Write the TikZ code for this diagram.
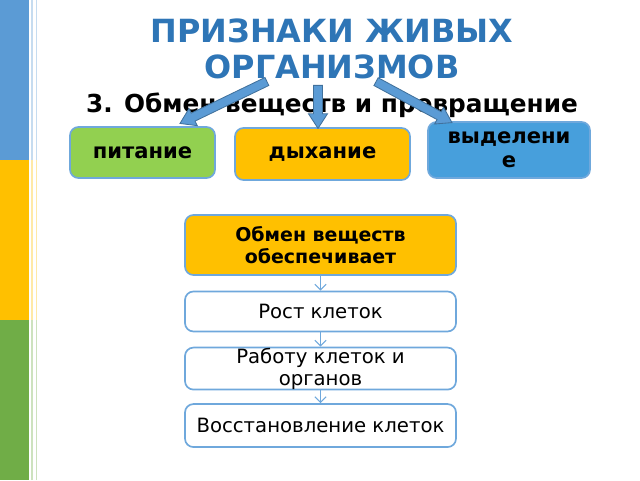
\documentclass[tikz,border=0pt]{standalone}
\usepackage{fontspec}
\setmainfont{DejaVu Sans}
\usetikzlibrary{arrows.meta,positioning,shapes.arrows,calc}
\definecolor{stripblue}{HTML}{5B9BD5}
\definecolor{stripyellow}{HTML}{FFC000}
\definecolor{stripgreen}{HTML}{70AD47}
\definecolor{titleblue}{HTML}{2E75B6}
\definecolor{boxline}{HTML}{6FA8DC}
\definecolor{boxgreen}{HTML}{92D050}
\definecolor{boxyellow}{HTML}{FFC000}
\definecolor{boxblue}{HTML}{479FDC}
\definecolor{arrowline}{HTML}{41719C}
\tikzset{
    %Define standard arrow tip
    >={Straight Barb[length=4pt,width=8pt]},
    %Define style for boxes
    topbox/.style={
           rectangle,
           rounded corners=6pt,
           draw=boxline, line width=1.2pt,
           font=\bfseries\fontsize{15}{17}\selectfont,
           align=center,
           inner sep=1pt},
    listbox/.style={
           rectangle,
           rounded corners=6pt,
           draw=boxline, line width=1.2pt,
           fill=white,
           minimum width=6.775cm,
           font=\fontsize{14}{15.5}\selectfont,
           align=center,
           inner sep=1pt},
    % Define arrow style
    bigarrow/.style={
           single arrow,
           draw=arrowline, line width=0.6pt,
           fill=stripblue,
           inner xsep=0pt, inner ysep=2.85pt,
           single arrow head extend=3.6pt,
           single arrow tip angle=66},
    pil/.style={
           ->,
           draw=boxline,
           line width=0.8pt}
}
\begin{document}
\begin{tikzpicture}
\useasboundingbox (0,0) rectangle (16,12);
 %strip
\fill[stripblue] (0,8) rectangle (0.725,12);
\fill[stripyellow] (0,4) rectangle (0.725,8);
\fill[stripgreen] (0,0) rectangle (0.725,4);
\foreach \c/\ya/\yb in {stripblue/8/12, stripyellow/4/8, stripgreen/0/4} {
  \draw[\c!35, line width=1.4pt] (0.79,\ya) -- (0.79,\yb);
  \draw[\c!35, line width=1pt] (0.915,\ya) -- (0.915,\yb);
}
 %titles
\node[text=titleblue, font=\bfseries\fontsize{22.7}{25.9}\selectfont, align=center] (title) at (8.3,10.78) {ПРИЗНАКИ ЖИВЫХ\\ОРГАНИЗМОВ};
\node[font=\bfseries\fontsize{17.6}{20.3}\selectfont, align=center, anchor=north] (sub) at (8.3,9.8) {3. Обмен веществ и превращение\\энергии};
 %boxes
\node[topbox, fill=boxgreen, minimum width=3.625cm, minimum height=1.275cm] (pit) at (3.5625,8.1875) {питание};
\node[topbox, fill=boxyellow, minimum width=4.375cm, minimum height=1.3cm] (dyh) at (8.0625,8.15) {дыхание};
\node[topbox, fill=boxblue, minimum width=4.05cm, minimum height=1.4cm] (vyd) at (12.725,8.25) {выделени\\е};
 %block arrows
\coordinate (lt) at (6.75,10.0);
\coordinate (lh) at (4.575,8.95);
\coordinate (mt) at (7.95,9.95);
\coordinate (mh) at (7.95,8.875);
\coordinate (rt) at (9.325,10.0);
\coordinate (rh) at (11.225,8.975);
\foreach \a/\b in {lt/lh, mt/mh, rt/rh}
  \path let \p1=($(\b)-(\a)$), \n1={atan2(\y1,\x1)}, \n2={veclen(\x1,\y1)} in
    node[bigarrow, minimum height=\n2, rotate=\n1] at ($(\a)!0.5!(\b)$) {};
 %list
\node[listbox, fill=boxyellow, font=\bfseries\fontsize{13.5}{15.6}\selectfont, minimum height=1.5cm] (obmen) at (8.0125,5.875) {Обмен веществ\\обеспечивает};
\node[listbox, minimum height=1.0cm, below=0.37cm of obmen] (rost) {Рост клеток};
\node[listbox, minimum height=1.05cm, inner ysep=0pt, below=0.36cm of rost] (rab) {Работу клеток и\\органов};
\node[listbox, minimum height=1.075cm, below=0.32cm of rab] (vos) {Восстановление клеток};
 \path[pil]
    (obmen) edge (rost)
    (rost) edge (rab)
    (rab) edge (vos);
\end{tikzpicture}
\end{document}
